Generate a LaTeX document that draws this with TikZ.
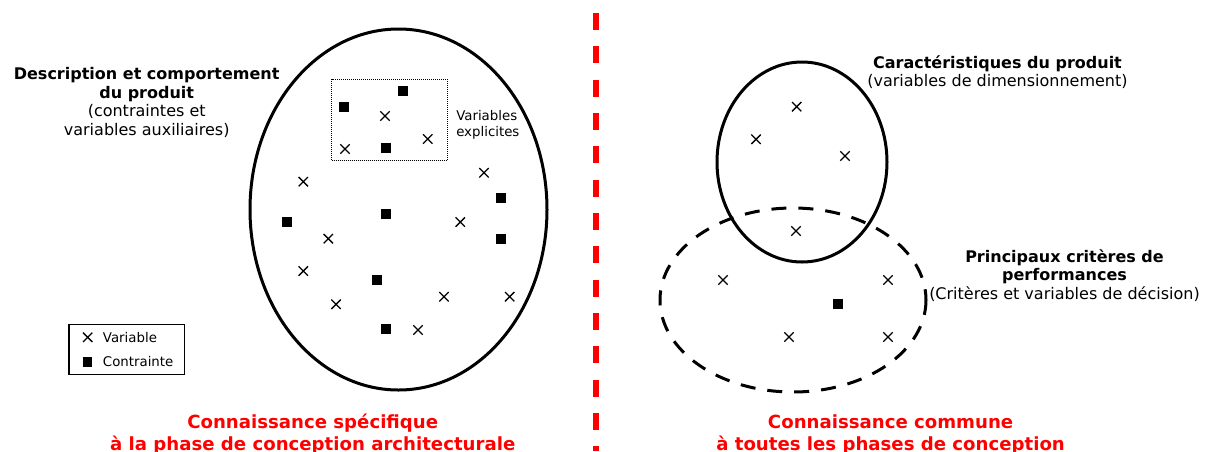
\documentclass[tikz,border=0pt]{standalone}
\usepackage{fontspec}
\setmainfont{DejaVu Sans}
\usetikzlibrary{shapes}

\begin{document}
\begin{tikzpicture}[x=0.75pt,y=-0.75pt,
	var_node/.style={cross out,draw,line width=1pt,minimum size=6pt,inner sep=0pt},
	cons_node/.style={rectangle,fill,minimum size=7.5pt,inner sep=0pt},
	set_line/.style={line width=2.25pt},
	label_text/.style={align=center,inner sep=0pt,anchor=base,font=\fontsize{12}{13.8}\selectfont},
	small_text/.style={align=left,inner sep=0pt,anchor=base west,font=\fontsize{10}{11.8}\selectfont},
	phase_text/.style={align=center,inner sep=0pt,anchor=base,text=red,font=\bfseries\fontsize{13.6}{15.8}\selectfont}]
	\useasboundingbox (0,0) rectangle (1211,451);
	\coordinate (sep_top) at (596,13);
	\coordinate (sep_bottom) at (596,451);
	\draw[red,line width=4.5pt,dash pattern=on 12.75pt off 12.25pt] (sep_top) -- (sep_bottom);
	% ensembles
	\draw[set_line] (398.5,209.5) ellipse [x radius=148.5,y radius=180.5];
	\draw[set_line] (802,162) ellipse [x radius=85,y radius=100];
	\draw[set_line,dash pattern=on 11.25pt off 9pt] (793,300) ellipse [x radius=133,y radius=92];
	\node[draw,line width=0.75pt,dash pattern=on 0.75pt off 0.75pt,minimum width=86.7pt,minimum height=60.75pt,inner sep=0pt] (explicit_box) at (389.5,119.5) {};
	% marques
	\foreach \px/\py [count=\i] in {385/116, 345/149, 427.7/139, 303.3/181.7, 484/172.7, 460.3/222, 328.3/238.7, 303.3/271, 336/304.3, 444/296.7, 509.7/296.7, 418/330,
		796.7/106.7, 756/139.3, 845/156, 796/231, 723/280, 888/280, 789/337, 888/337}
		\node[var_node] (v\i) at (\px,\py) {};
	\foreach \px/\py [count=\i] in {402.7/90.7, 344/107, 386/148, 501.3/198, 386/214, 287.3/222, 501.3/238.7, 377/280, 386/329.3, 837.7/304}
		\node[cons_node] (c\i) at (\px,\py) {};
	% textes
	\node[label_text] (desc) at (146.7,135) {\textbf{Description et comportement}\\\textbf{du produit}\\(contraintes et\\variables auxiliaires)};
	\node[label_text] (carac) at (997.5,86.7) {\textbf{Caractéristiques du produit}\\(variables de dimensionnement)};
	\node[label_text] (perf) at (1064.5,299) {\textbf{Principaux critères de}\\\textbf{performances}\\(Critères et variables de décision)};
	\node[small_text] (explicit) at (456,136.7) {Variables\\explicites};
	% legende
	\node[draw,line width=1pt,minimum width=86.5pt,minimum height=37.5pt,inner sep=0pt] (legend) at (126.5,349.7) {};
	\node[var_node] (legend_var) at (87.7,337.3) {};
	\node[cons_node,minimum size=7pt] (legend_cons) at (87.7,362) {};
	\node[small_text] (legend_var_text) at (102.7,342.3) {Variable};
	\node[small_text] (legend_cons_text) at (102.7,366.7) {Contrainte};
	\node[phase_text] (phase_left) at (312.7,450) {Connaissance spécifique\\à la phase de conception architecturale};
	\node[phase_text] (phase_right) at (890.6,450) {Connaissance commune\\à toutes les phases de conception};
\end{tikzpicture}
\end{document}
